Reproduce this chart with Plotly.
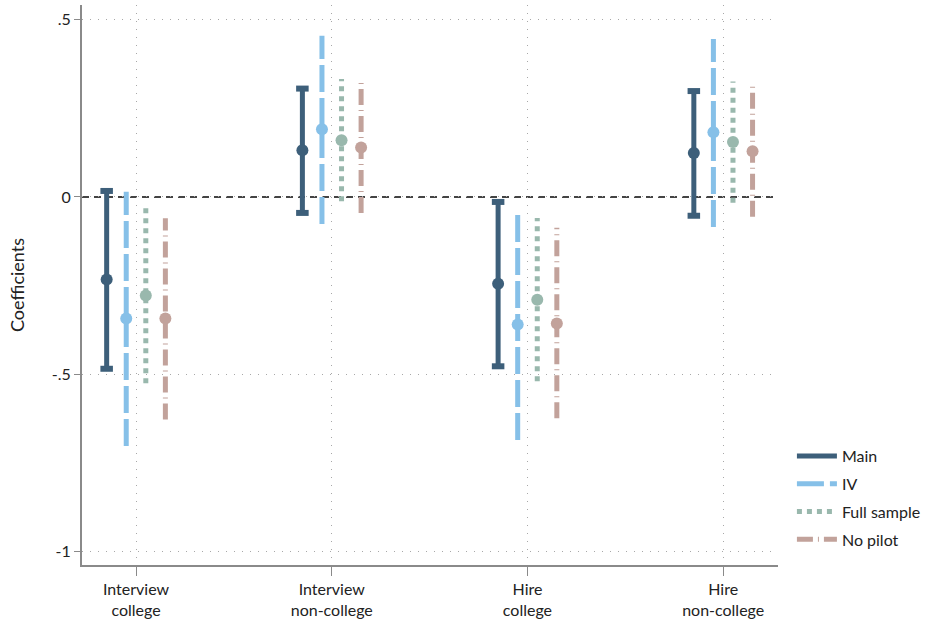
import plotly.graph_objects as go

categories = ["Interview<br>college", "Interview<br>non-college", "Hire<br>college", "Hire<br>non-college"]
series = ["Main", "IV", "Full sample", "No pilot"]

coef = {
    "Main":        [-0.233, 0.132, -0.245, 0.124],
    "IV":          [-0.343, 0.191, -0.360, 0.183],
    "Full sample": [-0.278, 0.160, -0.290, 0.155],
    "No pilot":    [-0.343, 0.140, -0.357, 0.129],
}
lower = {
    "Main":        [-0.485, -0.045, -0.478, -0.053],
    "IV":          [-0.703, -0.076, -0.686, -0.085],
    "Full sample": [-0.526, -0.012, -0.520, -0.016],
    "No pilot":    [-0.628, -0.045, -0.625, -0.056],
}
upper = {
    "Main":        [0.017, 0.306, -0.014, 0.299],
    "IV":          [0.015, 0.455, -0.037, 0.446],
    "Full sample": [-0.032, 0.333, -0.059, 0.326],
    "No pilot":    [-0.060, 0.324, -0.087, 0.312],
}
yticks = [-1, -0.5, 0, 0.5]
yticklabels = ["-1", "-.5", "0", ".5"]

colors = {"Main": "#3d5f7a", "IV": "#86c0e8", "Full sample": "#99b8ad", "No pilot": "#c2a29b"}
dashes = {"Main": "solid", "IV": "27px,6px", "Full sample": "5px,5px", "No pilot": "16px,5px,1px,5px"}
offsets = {"Main": -0.15, "IV": -0.05, "Full sample": 0.05, "No pilot": 0.15}

fig = go.Figure()
FONT = "Lato, 'Open Sans', sans-serif"
cap = 0.032

for s in series:
    xs, ys = [], []
    for i in range(len(categories)):
        x = i + 1 + offsets[s]
        xs += [x, x, None]
        ys += [lower[s][i], upper[s][i], None]
    fig.add_trace(go.Scatter(x=xs, y=ys, mode="lines", name=s, legendgroup=s,
                             line=dict(color=colors[s], width=5, dash=dashes[s]),
                             hoverinfo="skip"))
    if s == "Main":
        cx, cy = [], []
        for i in range(len(categories)):
            x = i + 1 + offsets[s]
            for v in (lower[s][i], upper[s][i]):
                cx += [x - cap, x + cap, None]
                cy += [v, v, None]
        fig.add_trace(go.Scatter(x=cx, y=cy, mode="lines", showlegend=False, legendgroup=s,
                                 line=dict(color=colors[s], width=6), hoverinfo="skip"))

for s in series:
    fig.add_trace(go.Scatter(x=[i + 1 + offsets[s] for i in range(len(categories))],
                             y=coef[s], mode="markers", showlegend=False, legendgroup=s,
                             marker=dict(color=colors[s], size=12, line=dict(width=0))))

fig.add_shape(type="line", xref="paper", x0=0, x1=1, yref="y", y0=0, y1=0,
              line=dict(color="#444444", width=2, dash="7px,5px"), layer="below")

fig.update_layout(
    width=931, height=624,
    margin=dict(l=82, r=153, t=5, b=57),
    paper_bgcolor="white", plot_bgcolor="white",
    font=dict(family=FONT, size=16, color="#222222"),
    legend=dict(x=1.02, y=0.225, xanchor="left", yanchor="top",
                font=dict(size=16, color="#222222"), tracegroupgap=4,
                itemwidth=40, bgcolor="rgba(0,0,0,0)"),
    xaxis=dict(range=[0.724, 4.28], tickmode="array", tickvals=[1, 2, 3, 4],
               ticktext=categories, showgrid=True, gridcolor="#a8a8a8", griddash="1px,7px",
               gridwidth=1, showline=True, linecolor="#8a8a8a", linewidth=2,
               ticks="outside", ticklen=9, tickcolor="#8a8a8a", zeroline=False,
               tickfont=dict(size=16, color="#222222")),
    yaxis=dict(range=[-1.039, 0.542], tickmode="array", tickvals=yticks,
               ticktext=yticklabels, showgrid=True, gridcolor="#a8a8a8", griddash="1px,7px",
               gridwidth=1, showline=True, linecolor="#8a8a8a", linewidth=2,
               ticks="outside", ticklen=6, tickcolor="#8a8a8a", zeroline=False,
               title=dict(text="Coefficients", font=dict(size=18, color="#222222"), standoff=22),
               tickfont=dict(size=16, color="#222222")),
)

fig.write_html("out.html")
